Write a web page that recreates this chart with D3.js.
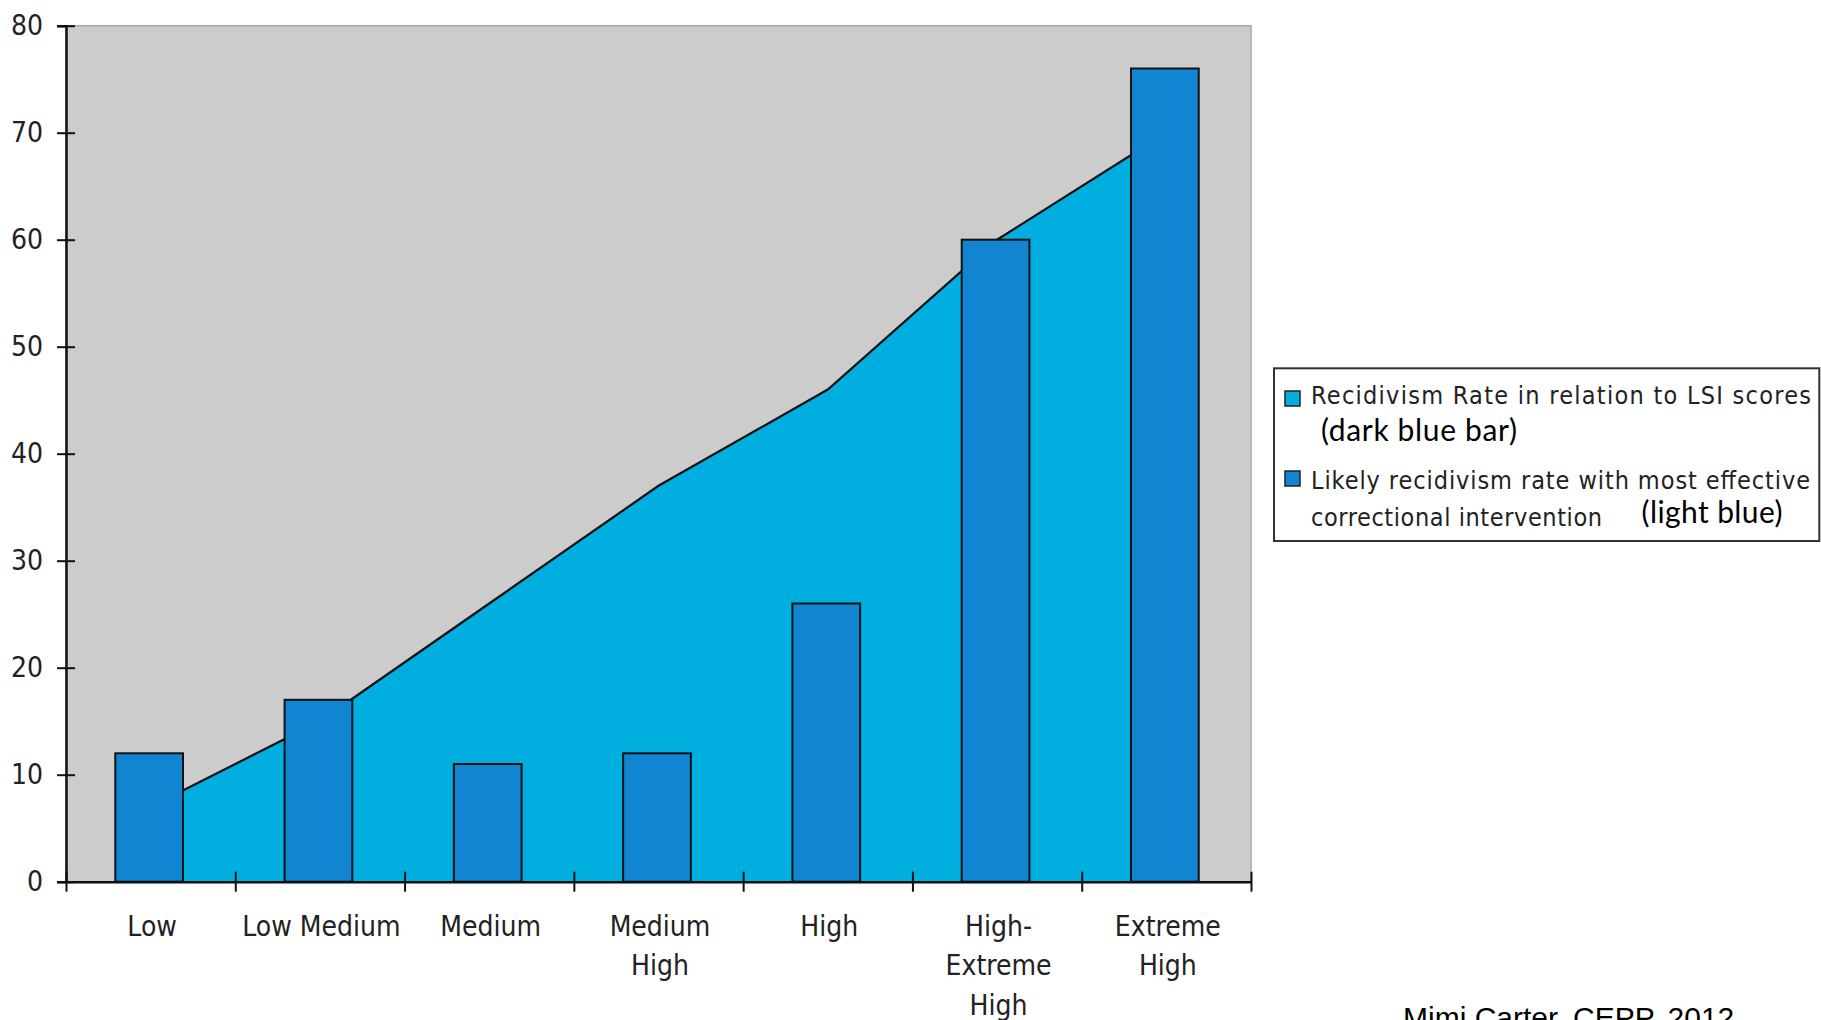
<!DOCTYPE html>
<html>
<head>
<meta charset="utf-8">
<script src="https://cdn.jsdelivr.net/npm/d3@7"></script>
<style>
  html, body { margin: 0; padding: 0; background: #fff; }
  svg { display: block; }
  .cond { font-family: "DejaVu Sans Condensed", "DejaVu Sans", sans-serif; font-stretch: condensed; }
</style>
</head>
<body>
<svg id="chart" width="1821" height="1020"></svg>
<script>
// ---- data ----
const categories = [["Low"], ["Low Medium"], ["Medium"], ["Medium", "High"], ["High"], ["High-", "Extreme", "High"], ["Extreme", "High"]];
const actualRates = [12, 17, 11, 12, 26, 60, 76];          // dark blue bars
const lsiRates = [7, 15, 26, 37, 46, 60, 70];               // light blue area
const yTicks = [0, 10, 20, 30, 40, 50, 60, 70, 80];
const legendLabels = [
  ["Recidivism Rate in relation to LSI scores", "(dark blue bar)"],
  ["Likely recidivism rate with most effective", "correctional intervention", "(light blue)"]
];
const credit = "Mimi Carter, CEPP, 2012";

// ---- layout ----
const svg = d3.select("#chart");
const pLeft = 66, pRight = 1251, pTop = 25.7, pBottom = 881.7;
const grey = "#cccccc", areaBlue = "#00aedf", barBlue = "#1184d2";

const idx = d3.range(categories.length);
const x = d3.scaleBand().domain(idx).range([pLeft, pRight]).paddingInner(0).paddingOuter(0);
const xEdge = d3.scaleLinear().domain([0, categories.length]).range([pLeft, pRight]);
const y = d3.scaleLinear().domain([0, 80]).range([pBottom, pTop]);

// plot background
svg.append("rect")
  .attr("x", pLeft).attr("y", pTop)
  .attr("width", pRight - pLeft).attr("height", pBottom - pTop)
  .attr("fill", grey).attr("stroke", "#a9a9a9").attr("stroke-width", 1.5);

// area
const area = d3.area()
  .x((d, i) => x(i) + x.bandwidth() / 2)
  .y0(y(0))
  .y1(d => y(d));
const line = d3.line()
  .x((d, i) => x(i) + x.bandwidth() / 2)
  .y(d => y(d));
svg.append("path").datum(lsiRates).attr("d", area).attr("fill", areaBlue);
svg.append("path").datum(lsiRates).attr("d", line)
  .attr("fill", "none").attr("stroke", "#111").attr("stroke-width", 2.2);

// bars
const bw = x.bandwidth() * 0.4;
svg.append("g").selectAll("rect").data(actualRates).join("rect")
  .attr("x", (d, i) => x(i) + x.bandwidth() / 2 - bw / 2 - 1.5)
  .attr("width", bw)
  .attr("y", d => y(d))
  .attr("height", d => y(0) - y(d))
  .attr("fill", barBlue).attr("stroke", "#111").attr("stroke-width", 2);

// y axis
const yAxis = svg.append("g").attr("transform", `translate(${pLeft},0)`)
  .call(d3.axisLeft(y).tickValues(yTicks).tickSize(9).tickPadding(14));
yAxis.select(".domain").attr("stroke", "#111").attr("stroke-width", 2.5);
yAxis.selectAll(".tick line").attr("x1", 9).attr("x2", -9).attr("stroke", "#111").attr("stroke-width", 2);
yAxis.selectAll(".tick text")
  .attr("font-size", 28).attr("fill", "#222")
  .style("font-family", "'DejaVu Sans Condensed','DejaVu Sans',sans-serif")
  .style("font-stretch", "condensed");

// x axis
const xAxis = svg.append("g").attr("transform", `translate(0,${pBottom})`)
  .call(d3.axisBottom(xEdge).tickValues(d3.range(categories.length + 1)).tickFormat("").tickSize(10).tickSizeOuter(0));
xAxis.select(".domain").attr("stroke", "#111").attr("stroke-width", 2.5);
xAxis.selectAll(".tick line").attr("y1", -10).attr("y2", 10).attr("stroke", "#111").attr("stroke-width", 2);

// x labels
const xl = svg.append("g");
categories.forEach((lines, i) => {
  const t = xl.append("text")
    .attr("class", "cond")
    .attr("text-anchor", "middle")
    .attr("font-size", 28).attr("fill", "#222");
  lines.forEach((s, j) => {
    t.append("tspan").attr("x", x(i) + x.bandwidth() / 2 + 1.5).attr("y", 935.7 + j * 39.5).text(s);
  });
});

// legend
const lg = svg.append("g");
lg.append("rect").attr("x", 1274).attr("y", 368.3).attr("width", 1819.3 - 1274).attr("height", 541 - 368.3)
  .attr("fill", "#fff").attr("stroke", "#333").attr("stroke-width", 2);
lg.append("rect").attr("x", 1285).attr("y", 391).attr("width", 15).attr("height", 15)
  .attr("fill", areaBlue).attr("stroke", "#222").attr("stroke-width", 1.5);
lg.append("rect").attr("x", 1285).attr("y", 471).attr("width", 15).attr("height", 15)
  .attr("fill", barBlue).attr("stroke", "#222").attr("stroke-width", 1.5);
lg.append("text").attr("class", "cond").attr("x", 1311).attr("y", 404)
  .attr("font-size", 25).attr("fill", "#222")
  .attr("textLength", 500).attr("lengthAdjust", "spacing").text(legendLabels[0][0]);
lg.append("text").attr("x", 1321).attr("y", 440.5)
  .attr("font-family", "Lato, 'Open Sans', sans-serif").attr("font-size", 30).attr("fill", "#000")
  .attr("textLength", 196).attr("lengthAdjust", "spacing").text(legendLabels[0][1]);
lg.append("text").attr("class", "cond").attr("x", 1311).attr("y", 489)
  .attr("font-size", 25).attr("fill", "#222")
  .attr("textLength", 499).attr("lengthAdjust", "spacing").text(legendLabels[1][0]);
lg.append("text").attr("class", "cond").attr("x", 1311).attr("y", 526)
  .attr("font-size", 25).attr("fill", "#222")
  .attr("textLength", 291).attr("lengthAdjust", "spacing").text(legendLabels[1][1]);
lg.append("text").attr("x", 1641.5).attr("y", 523)
  .attr("font-family", "Lato, 'Open Sans', sans-serif").attr("font-size", 30).attr("fill", "#000")
  .attr("textLength", 141).attr("lengthAdjust", "spacing").text(legendLabels[1][2]);

// credit
svg.append("text").attr("x", 1403).attr("y", 1028)
  .attr("font-family", "'Liberation Sans', Arial, sans-serif").attr("font-size", 30).attr("fill", "#000")
  .text(credit);
</script>
</body>
</html>
